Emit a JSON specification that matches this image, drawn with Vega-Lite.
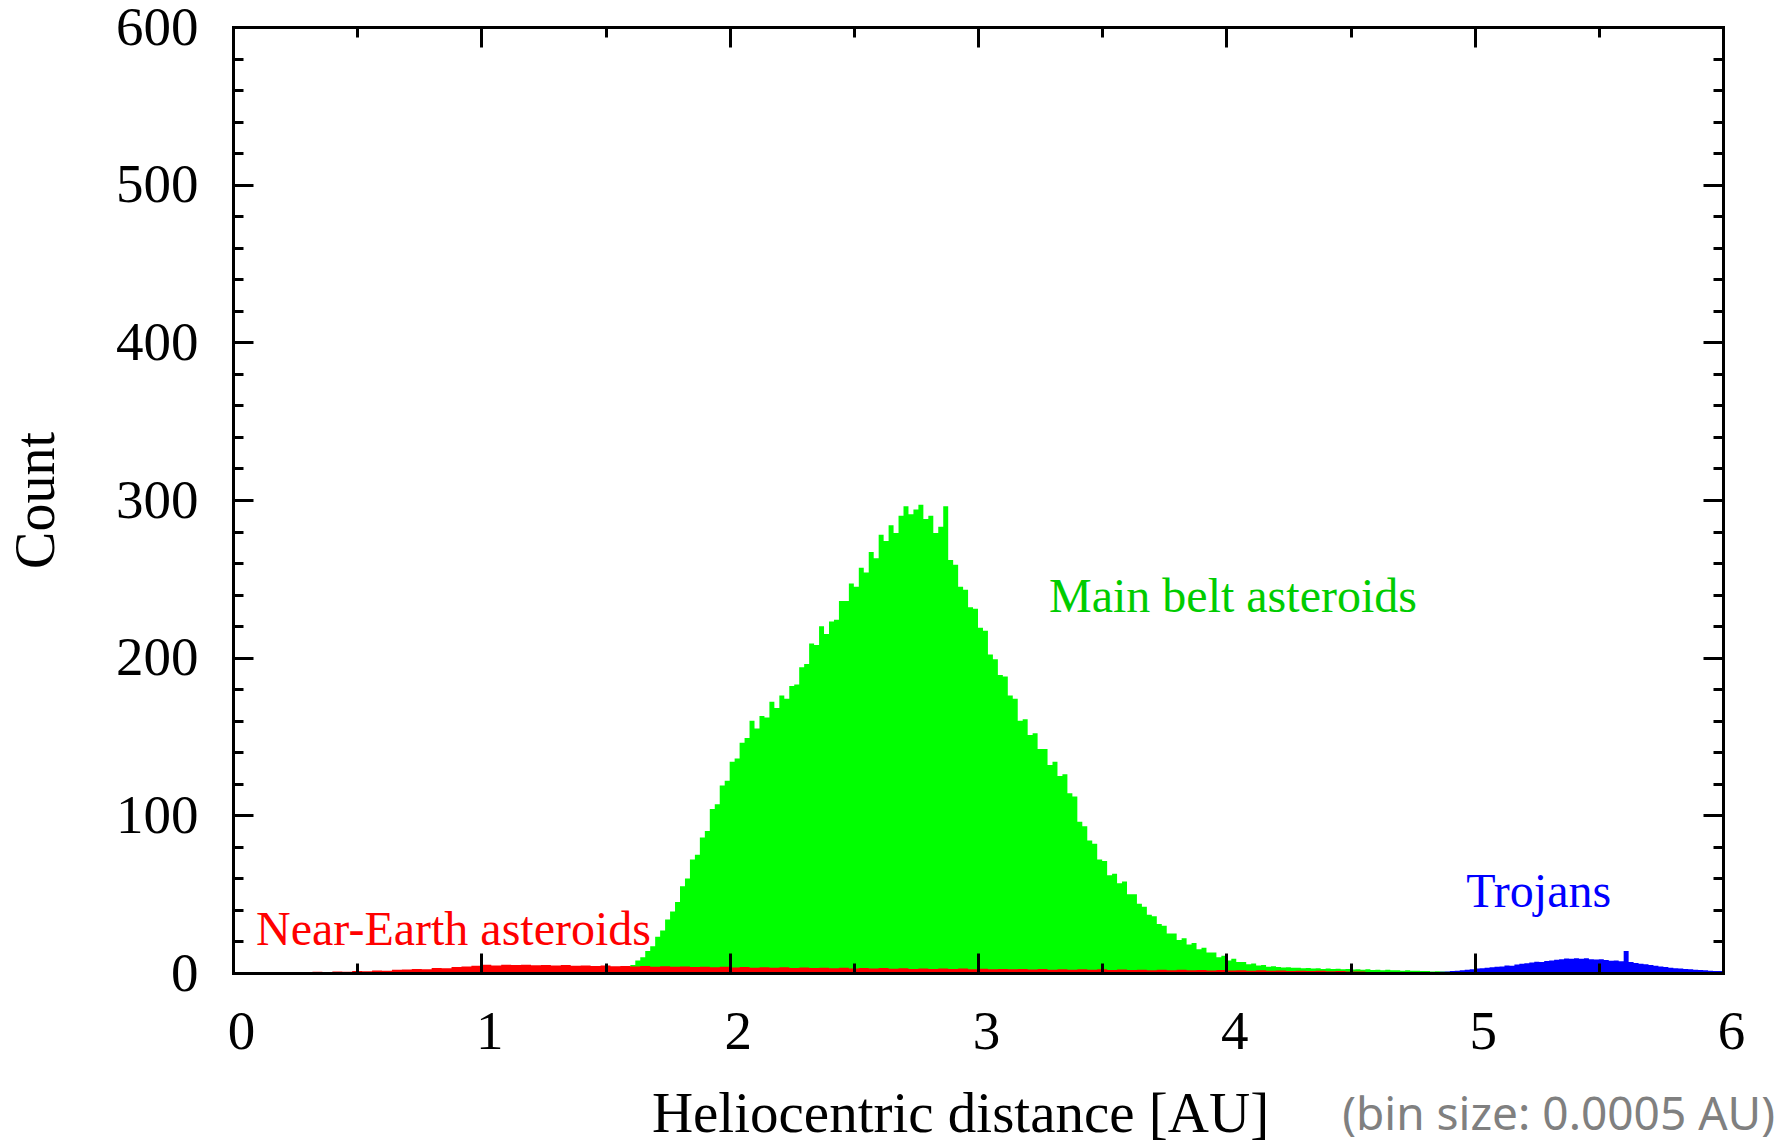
{
  "$schema": "https://vega.github.io/schema/vega-lite/v6.json",
  "width": 1490,
  "height": 946,
  "autosize": {"type": "none"},
  "padding": {"left": 233, "top": 27, "right": 68, "bottom": 174},
  "background": "white",
  "config": {"view": {"stroke": null}, "text": {"font": "Liberation Serif"}},
  "title": {"text": "(bin size: 0.0005 AU)", "orient": "bottom", "anchor": "end", "frame": "group", "font": "Noto Sans", "fontSize": 46, "fontWeight": "normal", "color": "#808080", "offset": 0, "baseline": "alphabetic", "dx": 52, "dy": -12},
  "datasets": {
    "green": [
      {"au":1.50,"count":0.5},{"au":1.52,"count":1},{"au":1.54,"count":2},{"au":1.56,"count":2},{"au":1.58,"count":4},{"au":1.60,"count":5},{"au":1.62,"count":8},{"au":1.64,"count":10},{"au":1.66,"count":14},{"au":1.68,"count":17},
      {"au":1.70,"count":23},{"au":1.72,"count":27},{"au":1.74,"count":34},{"au":1.76,"count":39},{"au":1.78,"count":45},{"au":1.80,"count":55},{"au":1.82,"count":60},{"au":1.84,"count":72},{"au":1.86,"count":75},{"au":1.88,"count":86},
      {"au":1.90,"count":90},{"au":1.92,"count":104},{"au":1.94,"count":107},{"au":1.96,"count":119},{"au":1.98,"count":122},{"au":2.00,"count":134},{"au":2.02,"count":136},{"au":2.04,"count":146},{"au":2.06,"count":149},{"au":2.08,"count":160},
      {"au":2.10,"count":155},{"au":2.12,"count":163},{"au":2.14,"count":162},{"au":2.16,"count":172},{"au":2.18,"count":168},{"au":2.20,"count":176},{"au":2.22,"count":174},{"au":2.24,"count":182},{"au":2.26,"count":183},{"au":2.28,"count":194},
      {"au":2.30,"count":196},{"au":2.32,"count":209},{"au":2.34,"count":208},{"au":2.36,"count":220},{"au":2.38,"count":215},{"au":2.40,"count":223},{"au":2.42,"count":224},{"au":2.44,"count":236},{"au":2.46,"count":236},{"au":2.48,"count":247},
      {"au":2.50,"count":245},{"au":2.52,"count":257},{"au":2.54,"count":254},{"au":2.56,"count":267},{"au":2.58,"count":263},{"au":2.60,"count":278},{"au":2.62,"count":274},{"au":2.64,"count":284},{"au":2.66,"count":279},{"au":2.68,"count":290},
      {"au":2.70,"count":296},{"au":2.72,"count":291},{"au":2.74,"count":294},{"au":2.76,"count":297},{"au":2.78,"count":288},{"au":2.80,"count":290},{"au":2.82,"count":279},{"au":2.84,"count":283},{"au":2.86,"count":296},{"au":2.88,"count":262},
      {"au":2.90,"count":259},{"au":2.92,"count":245},{"au":2.94,"count":243},{"au":2.96,"count":232},{"au":2.98,"count":231},{"au":3.00,"count":219},{"au":3.02,"count":217},{"au":3.04,"count":202},{"au":3.06,"count":199},{"au":3.08,"count":189},
      {"au":3.10,"count":188},{"au":3.12,"count":176},{"au":3.14,"count":174},{"au":3.16,"count":160},{"au":3.18,"count":161},{"au":3.20,"count":151},{"au":3.22,"count":152},{"au":3.24,"count":142},{"au":3.26,"count":142},{"au":3.28,"count":132},
      {"au":3.30,"count":134},{"au":3.32,"count":125},{"au":3.34,"count":126},{"au":3.36,"count":114},{"au":3.38,"count":112},{"au":3.40,"count":96},{"au":3.42,"count":93},{"au":3.44,"count":84},{"au":3.46,"count":82},{"au":3.48,"count":72},
      {"au":3.50,"count":71},{"au":3.52,"count":62},{"au":3.54,"count":63},{"au":3.56,"count":57},{"au":3.58,"count":58},{"au":3.60,"count":50},{"au":3.62,"count":50},{"au":3.64,"count":44},{"au":3.66,"count":42},{"au":3.68,"count":37},
      {"au":3.70,"count":36},{"au":3.72,"count":31},{"au":3.74,"count":30},{"au":3.76,"count":25},{"au":3.78,"count":25},{"au":3.80,"count":21},{"au":3.82,"count":22},{"au":3.84,"count":18},{"au":3.86,"count":19},{"au":3.88,"count":15},
      {"au":3.90,"count":16},{"au":3.92,"count":13},{"au":3.94,"count":13},{"au":3.96,"count":10},{"au":3.98,"count":11},{"au":4.00,"count":8},{"au":4.02,"count":9},{"au":4.04,"count":7},{"au":4.06,"count":7},{"au":4.08,"count":5.5},
      {"au":4.10,"count":6},{"au":4.12,"count":4.8},{"au":4.14,"count":5},{"au":4.16,"count":4},{"au":4.18,"count":4.3},{"au":4.20,"count":3.8},{"au":4.22,"count":3.5},{"au":4.24,"count":3.7},{"au":4.26,"count":3.3},{"au":4.28,"count":3.4},
      {"au":4.30,"count":3.0},{"au":4.32,"count":3.2},{"au":4.34,"count":2.8},{"au":4.36,"count":3.0},{"au":4.38,"count":2.6},{"au":4.40,"count":2.9},{"au":4.42,"count":2.5},{"au":4.44,"count":2.7},{"au":4.46,"count":2.3},{"au":4.48,"count":2.6},
      {"au":4.50,"count":2.2},{"au":4.52,"count":2.4},{"au":4.54,"count":2.0},{"au":4.56,"count":2.3},{"au":4.58,"count":1.9},{"au":4.60,"count":2.1},{"au":4.62,"count":1.8},{"au":4.64,"count":2.0},{"au":4.66,"count":1.7},{"au":4.68,"count":1.8},
      {"au":4.70,"count":1.5},{"au":4.72,"count":1.7},{"au":4.74,"count":1.4},{"au":4.76,"count":1.5},{"au":4.78,"count":1.2},{"au":4.80,"count":1.3},{"au":4.82,"count":1.0},{"au":4.84,"count":1.1},{"au":4.86,"count":0.9},{"au":4.88,"count":0.8},{"au":4.90,"count":0}
    ],
    "red": [
      {"au":0.32,"count":0.8},{"au":0.36,"count":0.5},{"au":0.40,"count":1.0},{"au":0.44,"count":0.8},{"au":0.48,"count":1.3},{"au":0.52,"count":1.1},{"au":0.56,"count":1.6},{"au":0.60,"count":1.4},{"au":0.64,"count":2.0},{"au":0.68,"count":2.2},
      {"au":0.72,"count":2.6},{"au":0.76,"count":2.4},{"au":0.80,"count":3.2},{"au":0.84,"count":3.0},{"au":0.88,"count":3.8},{"au":0.92,"count":4.1},{"au":0.96,"count":4.6},{"au":1.00,"count":5.2},{"au":1.04,"count":4.8},{"au":1.08,"count":5.3},
      {"au":1.12,"count":5.0},{"au":1.16,"count":5.2},{"au":1.20,"count":4.9},{"au":1.24,"count":5.1},{"au":1.28,"count":4.7},{"au":1.32,"count":5.0},{"au":1.36,"count":4.6},{"au":1.40,"count":4.8},{"au":1.44,"count":4.5},{"au":1.48,"count":4.7},
      {"au":1.52,"count":4.3},{"au":1.56,"count":4.5},{"au":1.60,"count":4.2},{"au":1.64,"count":4.4},{"au":1.68,"count":4.0},{"au":1.72,"count":4.3},{"au":1.76,"count":3.9},{"au":1.80,"count":4.1},{"au":1.84,"count":3.8},{"au":1.88,"count":4.0},
      {"au":1.92,"count":3.6},{"au":1.96,"count":3.9},{"au":2.00,"count":3.5},{"au":2.04,"count":3.8},{"au":2.08,"count":3.4},{"au":2.12,"count":3.6},{"au":2.16,"count":3.3},{"au":2.20,"count":3.6},{"au":2.24,"count":3.2},{"au":2.28,"count":3.5},
      {"au":2.32,"count":3.1},{"au":2.36,"count":3.4},{"au":2.40,"count":3.0},{"au":2.44,"count":3.3},{"au":2.48,"count":2.9},{"au":2.52,"count":3.2},{"au":2.56,"count":2.8},{"au":2.60,"count":3.1},{"au":2.64,"count":2.7},{"au":2.68,"count":3.0},
      {"au":2.72,"count":2.6},{"au":2.76,"count":2.9},{"au":2.80,"count":2.6},{"au":2.84,"count":2.8},{"au":2.88,"count":2.5},{"au":2.92,"count":2.8},{"au":2.96,"count":2.4},{"au":3.00,"count":2.7},{"au":3.04,"count":2.3},{"au":3.08,"count":2.6},
      {"au":3.12,"count":2.3},{"au":3.16,"count":2.5},{"au":3.20,"count":2.2},{"au":3.24,"count":2.5},{"au":3.28,"count":2.1},{"au":3.32,"count":2.4},{"au":3.36,"count":2.1},{"au":3.40,"count":2.3},{"au":3.44,"count":2.0},{"au":3.48,"count":2.3},
      {"au":3.52,"count":1.9},{"au":3.56,"count":2.2},{"au":3.60,"count":1.9},{"au":3.64,"count":2.1},{"au":3.68,"count":1.8},{"au":3.72,"count":2.1},{"au":3.76,"count":1.8},{"au":3.80,"count":2.0},{"au":3.84,"count":1.7},{"au":3.88,"count":1.9},
      {"au":3.92,"count":1.6},{"au":3.96,"count":1.9},{"au":4.00,"count":1.6},{"au":4.04,"count":1.8},{"au":4.08,"count":1.5},{"au":4.12,"count":1.7},{"au":4.16,"count":1.4},{"au":4.20,"count":1.6},{"au":4.24,"count":1.3},{"au":4.28,"count":1.5},
      {"au":4.32,"count":1.2},{"au":4.36,"count":1.4},{"au":4.40,"count":1.1},{"au":4.44,"count":1.2},{"au":4.48,"count":1.0},{"au":4.52,"count":0.9},{"au":4.56,"count":0.6},{"au":4.60,"count":0}
    ],
    "blue": [
      {"au":4.86,"count":0.8},{"au":4.88,"count":1.0},{"au":4.90,"count":1.2},{"au":4.92,"count":1.5},{"au":4.94,"count":1.8},{"au":4.96,"count":2.0},{"au":4.98,"count":2.4},{"au":5.00,"count":2.8},{"au":5.02,"count":3.0},{"au":5.04,"count":3.4},
      {"au":5.06,"count":3.6},{"au":5.08,"count":4.0},{"au":5.10,"count":4.2},{"au":5.12,"count":4.8},{"au":5.14,"count":4.6},{"au":5.16,"count":5.4},{"au":5.18,"count":5.8},{"au":5.20,"count":6.2},{"au":5.22,"count":6.6},{"au":5.24,"count":7.2},
      {"au":5.26,"count":7.0},{"au":5.28,"count":7.6},{"au":5.30,"count":8.0},{"au":5.32,"count":8.4},{"au":5.34,"count":8.8},{"au":5.36,"count":9.2},{"au":5.38,"count":9.0},{"au":5.40,"count":9.4},{"au":5.42,"count":9.0},{"au":5.44,"count":9.3},
      {"au":5.46,"count":8.8},{"au":5.48,"count":8.6},{"au":5.50,"count":8.8},{"au":5.52,"count":8.2},{"au":5.54,"count":7.8},{"au":5.56,"count":8.0},{"au":5.58,"count":7.4},{"au":5.60,"count":14.0},{"au":5.62,"count":7.0},{"au":5.64,"count":6.4},
      {"au":5.66,"count":5.8},{"au":5.68,"count":5.6},{"au":5.70,"count":5.0},{"au":5.72,"count":4.6},{"au":5.74,"count":4.2},{"au":5.76,"count":3.8},{"au":5.78,"count":3.4},{"au":5.80,"count":3.0},{"au":5.82,"count":2.8},{"au":5.84,"count":2.6},
      {"au":5.86,"count":2.3},{"au":5.88,"count":2.1},{"au":5.90,"count":1.9},{"au":5.92,"count":1.7},{"au":5.94,"count":1.5},{"au":5.96,"count":1.3},{"au":5.98,"count":1.2},{"au":6.00,"count":0}
    ],
    "labels": [
      {"au":0.093,"count":17.8,"label":"Near-Earth asteroids"},
      {"au":3.286,"count":229,"label":"Main belt asteroids"},
      {"au":4.966,"count":41.9,"label":"Trojans"}
    ]
  },
  "layer": [
    {
      "data": {"name": "green"},
      "mark": {"type": "area", "interpolate": "step-after", "color": "#00FF00"},
      "encoding": {
        "x": {"field": "au", "type": "quantitative", "scale": {"domain": [0, 6], "nice": false, "zero": false},
          "axis": {"orient": "bottom", "values": [0,0.5,1,1.5,2,2.5,3,3.5,4,4.5,5,5.5,6],
            "labelExpr": "datum.value % 1 === 0 ? '' + datum.value : ''",
            "labelFont": "Liberation Serif", "labelFontSize": 55, "labelColor": "black", "labelPadding": 42, "labelFlush": false, "labelOverlap": false, "labelBaseline": "top", "labelOffset": 8,
            "ticks": true, "tickSize": -10, "tickWidth": 3, "tickColor": "black", "grid": false,
            "domain": true, "domainColor": "black", "domainWidth": 3, "domainCap": "square",
            "title": "Heliocentric distance [AU]", "titleFont": "Liberation Serif", "titleFontSize": 57, "titleFontWeight": "normal", "titleColor": "black",
            "titleX": 727, "titleY": 158, "titleBaseline": "alphabetic", "titleAlign": "center",
            "zindex": 1,
            "encoding": {"ticks": {"y2": {"value": {"expr": "datum.value % 1 === 0 ? -20 : -10"}}}}}},
        "y": {"field": "count", "type": "quantitative", "scale": {"domain": [0, 600], "nice": false},
          "axis": {"orient": "left", "values": [0,20,40,60,80,100,120,140,160,180,200,220,240,260,280,300,320,340,360,380,400,420,440,460,480,500,520,540,560,580,600],
            "labelExpr": "datum.value % 100 === 0 ? '' + datum.value : ''",
            "labelFont": "Liberation Serif", "labelFontSize": 55, "labelColor": "black", "labelPadding": 45, "labelFlush": false, "labelOverlap": false,
            "ticks": true, "tickSize": -10, "tickWidth": 3, "tickColor": "black", "grid": false,
            "domain": true, "domainColor": "black", "domainWidth": 3, "domainCap": "square",
            "title": "Count", "titleFont": "Liberation Serif", "titleFontSize": 56, "titleFontWeight": "normal", "titleColor": "black",
            "titleX": -180, "titleY": 473, "titleBaseline": "alphabetic", "titleAlign": "center", "titleAngle": 270,
            "zindex": 1,
            "encoding": {"ticks": {"x2": {"value": {"expr": "datum.value % 100 === 0 ? 20 : 10"}}}}}}
      }
    },
    {
      "data": {"name": "red"},
      "mark": {"type": "area", "interpolate": "step-after", "color": "#FF0000"},
      "encoding": {
        "x": {"field": "au", "type": "quantitative", "axis": null},
        "y": {"field": "count", "type": "quantitative", "axis": null}
      }
    },
    {
      "data": {"name": "blue"},
      "mark": {"type": "area", "interpolate": "step-after", "color": "#0000FF"},
      "encoding": {
        "x": {"field": "au", "type": "quantitative", "axis": null},
        "y": {"field": "count", "type": "quantitative", "axis": null}
      }
    },
    {
      "data": {"name": "labels"},
      "mark": {"type": "text", "align": "left", "baseline": "alphabetic", "font": "Liberation Serif", "fontSize": 48},
      "encoding": {
        "x": {"field": "au", "type": "quantitative",
          "axis": {"orient": "top", "values": [0,0.5,1,1.5,2,2.5,3,3.5,4,4.5,5,5.5,6], "labels": false, "title": null,
            "ticks": true, "tickSize": -10, "tickWidth": 3, "tickColor": "black", "grid": false,
            "domain": true, "domainColor": "black", "domainWidth": 3, "domainCap": "square", "zindex": 1,
            "encoding": {"ticks": {"y2": {"value": {"expr": "datum.value % 1 === 0 ? 20 : 10"}}}}}},
        "y": {"field": "count", "type": "quantitative",
          "axis": {"orient": "right", "values": [0,20,40,60,80,100,120,140,160,180,200,220,240,260,280,300,320,340,360,380,400,420,440,460,480,500,520,540,560,580,600], "labels": false, "title": null,
            "ticks": true, "tickSize": -10, "tickWidth": 3, "tickColor": "black", "grid": false,
            "domain": true, "domainColor": "black", "domainWidth": 3, "domainCap": "square", "zindex": 1,
            "encoding": {"ticks": {"x2": {"value": {"expr": "datum.value % 100 === 0 ? -20 : -10"}}}}}},
        "text": {"field": "label", "type": "nominal"},
        "color": {"field": "label", "type": "nominal", "legend": null,
          "scale": {"domain": ["Near-Earth asteroids", "Main belt asteroids", "Trojans"], "range": ["#FF0000", "#00CC00", "#0000FF"]}}
      }
    }
  ],
  "resolve": {"axis": {"x": "independent", "y": "independent"}}
}
